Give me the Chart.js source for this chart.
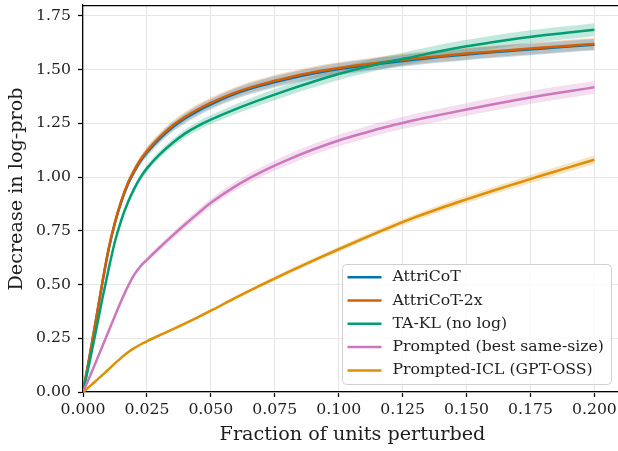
<!DOCTYPE html>
<html>
<head>
<meta charset="utf-8">
<script src="https://cdn.jsdelivr.net/npm/chart.js@4.4.1/dist/chart.umd.min.js"></script>
<style>
html,body{margin:0;padding:0;background:#fff;overflow:hidden}
#wrap{width:618px;height:451px;position:relative;overflow:hidden}
canvas{display:block}
</style>
</head>
<body>
<div id="wrap"><canvas id="c" width="622" height="451"></canvas></div>
<script>
// ---- data ----
const fractions = [0, 0.0025, 0.005, 0.0075, 0.01, 0.0125, 0.015, 0.0175, 0.02, 0.0225, 0.025, 0.03, 0.035, 0.04, 0.045, 0.05, 0.06, 0.07, 0.08, 0.09, 0.1, 0.11, 0.12, 0.13, 0.14, 0.15, 0.16, 0.17, 0.18, 0.19, 0.2];

const attricot      = [0, 0.16, 0.33, 0.503, 0.662, 0.786, 0.885, 0.965, 1.025, 1.075, 1.114, 1.178, 1.231, 1.273, 1.308, 1.338, 1.389, 1.426, 1.456, 1.481, 1.502, 1.518, 1.533, 1.547, 1.559, 1.57, 1.58, 1.589, 1.598, 1.607, 1.615];
const attricot2x    = [0, 0.16, 0.33, 0.505, 0.665, 0.79, 0.89, 0.97, 1.03, 1.08, 1.12, 1.185, 1.238, 1.28, 1.315, 1.345, 1.395, 1.432, 1.462, 1.487, 1.507, 1.523, 1.538, 1.551, 1.563, 1.574, 1.584, 1.593, 1.602, 1.611, 1.619];
const taKl          = [0, 0.135, 0.28, 0.43, 0.57, 0.70, 0.80, 0.88, 0.945, 0.998, 1.04, 1.105, 1.158, 1.203, 1.238, 1.267, 1.317, 1.362, 1.404, 1.443, 1.479, 1.51, 1.537, 1.561, 1.586, 1.608, 1.627, 1.644, 1.659, 1.672, 1.685];
const prompted      = [0, 0.068, 0.138, 0.21, 0.283, 0.355, 0.425, 0.49, 0.545, 0.585, 0.615, 0.672, 0.727, 0.78, 0.831, 0.88, 0.96, 1.025, 1.08, 1.128, 1.17, 1.205, 1.237, 1.265, 1.29, 1.314, 1.337, 1.359, 1.38, 1.399, 1.417];
const promptedIcl   = [0, 0.025, 0.051, 0.078, 0.105, 0.133, 0.16, 0.184, 0.204, 0.221, 0.236, 0.264, 0.291, 0.319, 0.348, 0.378, 0.44, 0.499, 0.556, 0.611, 0.664, 0.716, 0.766, 0.813, 0.856, 0.896, 0.935, 0.972, 1.009, 1.045, 1.08];

// half-widths of the shaded bands
const errAttricot   = [0, 0.004, 0.007, 0.009, 0.011, 0.013, 0.015, 0.017, 0.018, 0.019, 0.02, 0.021, 0.022, 0.023, 0.024, 0.024, 0.025, 0.026, 0.026, 0.027, 0.027, 0.027, 0.027, 0.027, 0.027, 0.027, 0.027, 0.027, 0.027, 0.027, 0.027];
const errAttricot2x = [0, 0.004, 0.007, 0.009, 0.011, 0.013, 0.015, 0.017, 0.018, 0.019, 0.02, 0.021, 0.022, 0.023, 0.024, 0.024, 0.025, 0.026, 0.026, 0.027, 0.027, 0.027, 0.027, 0.027, 0.027, 0.027, 0.027, 0.027, 0.027, 0.027, 0.027];
const errTaKl       = [0, 0.003, 0.005, 0.007, 0.009, 0.01, 0.011, 0.012, 0.013, 0.014, 0.015, 0.017, 0.018, 0.019, 0.02, 0.021, 0.023, 0.025, 0.026, 0.027, 0.028, 0.029, 0.029, 0.03, 0.03, 0.03, 0.03, 0.03, 0.03, 0.03, 0.03];
const errPrompted   = [0, 0.002, 0.004, 0.005, 0.006, 0.007, 0.008, 0.009, 0.01, 0.011, 0.012, 0.014, 0.015, 0.017, 0.018, 0.019, 0.021, 0.023, 0.025, 0.026, 0.027, 0.028, 0.028, 0.029, 0.029, 0.029, 0.03, 0.03, 0.03, 0.03, 0.03];
const errIcl        = [0, 0.001, 0.002, 0.002, 0.003, 0.003, 0.003, 0.004, 0.004, 0.005, 0.005, 0.006, 0.006, 0.007, 0.007, 0.008, 0.009, 0.01, 0.011, 0.011, 0.012, 0.013, 0.014, 0.015, 0.016, 0.017, 0.017, 0.018, 0.019, 0.019, 0.02];

const seriesNames = ["AttriCoT", "AttriCoT-2x", "TA-KL (no log)", "Prompted (best same-size)", "Prompted-ICL (GPT-OSS)"];
const seriesValues = [attricot, attricot2x, taKl, prompted, promptedIcl];
const seriesErrors = [errAttricot, errAttricot2x, errTaKl, errPrompted, errIcl];
const seriesColors = ["#0173B2", "#D55E00", "#029E73", "#CC78BC", "#DE8F05"];

const xTicks = [0, 0.025, 0.05, 0.075, 0.1, 0.125, 0.15, 0.175, 0.2];
const yTicks = [0, 0.25, 0.5, 0.75, 1.0, 1.25, 1.5, 1.75];
const xTitle = 'Fraction of units perturbed';
const yTitle = 'Decrease in log-prob';

// ---- chart ----
function rgba(hex, a) {
  const n = parseInt(hex.slice(1), 16);
  return `rgba(${(n >> 16) & 255},${(n >> 8) & 255},${n & 255},${a})`;
}
const FONT = "'DejaVu Serif', 'Liberation Serif', serif";
const TXT = '#1e1e1e';
const LW = 2.5;

const datasets = [];
seriesValues.forEach((vals, i) => {
  const err = seriesErrors[i];
  datasets.push({
    label: '_upper' + i,
    data: fractions.map((x, j) => ({x, y: vals[j] + err[j]})),
    borderWidth: 0, pointRadius: 0, fill: false,
    borderColor: 'rgba(0,0,0,0)', cubicInterpolationMode: 'monotone', order: 20
  });
  datasets.push({
    label: '_lower' + i,
    data: fractions.map((x, j) => ({x, y: vals[j] - err[j]})),
    borderWidth: 0, pointRadius: 0, fill: '-1',
    borderColor: 'rgba(0,0,0,0)', backgroundColor: rgba(seriesColors[i], 0.24),
    cubicInterpolationMode: 'monotone', order: 20
  });
});
seriesValues.forEach((vals, i) => {
  datasets.push({
    label: seriesNames[i],
    data: fractions.map((x, j) => ({x, y: vals[j]})),
    borderColor: seriesColors[i], borderWidth: LW, pointRadius: 0, fill: false,
    cubicInterpolationMode: 'monotone', order: 10 - i
  });
});

const framePlugin = {
  id: 'frame',
  afterDraw(chart) {
    const {ctx, chartArea: ca} = chart;
    ctx.save();
    ctx.strokeStyle = '#000';
    ctx.lineWidth = 1.25;
    ctx.beginPath();
    ctx.moveTo(ca.left, ca.top + 0.5);
    ctx.lineTo(ca.right, ca.top + 0.5);
    ctx.stroke();
    // y-axis title
    ctx.fillStyle = TXT;
    ctx.font = `19.2px ${FONT}`;
    ctx.textAlign = 'center';
    ctx.textBaseline = 'middle';
    ctx.translate(17.5, (ca.top + ca.bottom) / 2 - 9.5);
    ctx.rotate(-Math.PI / 2);
    ctx.fillText(yTitle, 0, 0);
    ctx.restore();
  }
};

const legendPlugin = {
  id: 'customLegend',
  afterDraw(chart) {
    const {ctx, chartArea: ca} = chart;
    const w = 269, h = 120;
    const x0 = ca.right - 279.5, y0 = ca.bottom - 127.5;
    ctx.save();
    ctx.beginPath();
    ctx.roundRect(x0, y0, w, h, 4);
    ctx.fillStyle = 'rgba(255,255,255,0.8)';
    ctx.fill();
    ctx.strokeStyle = '#d0d0d0';
    ctx.lineWidth = 1;
    ctx.stroke();
    ctx.font = `15.7px ${FONT}`;
    ctx.textBaseline = 'middle';
    ctx.fillStyle = TXT;
    seriesNames.forEach((name, i) => {
      const yy = y0 + 12.7 + i * 23.3;
      ctx.strokeStyle = seriesColors[i];
      ctx.lineWidth = LW;
      ctx.beginPath();
      ctx.moveTo(x0 + 5, yy);
      ctx.lineTo(x0 + 39, yy);
      ctx.stroke();
      ctx.fillText(name, x0 + 50, yy);
    });
    ctx.restore();
  }
};

new Chart(document.getElementById('c'), {
  type: 'line',
  data: {datasets},
  options: {
    responsive: false,
    animation: false,
    devicePixelRatio: 1,
    layout: {padding: {top: 5, left: 0, right: 0, bottom: 0}},
    plugins: {
      legend: {display: false},
      tooltip: {enabled: false},
      filler: {drawTime: 'beforeDatasetsDraw'}
    },
    scales: {
      x: {
        type: 'linear',
        min: 0, max: 0.2108,
        afterBuildTicks: s => { s.ticks = xTicks.map(v => ({value: v})); },
        afterFit: s => { s.height = 59; s.paddingLeft = 0; s.paddingRight = 0; },
        grid: {color: '#e6e6e6', lineWidth: 1, drawTicks: true, tickLength: 5, tickColor: '#000', tickWidth: 1.25},
        border: {display: true, color: '#000', width: 1.25},
        ticks: {
          font: {family: FONT, size: 15.7}, color: TXT, padding: 4, maxRotation: 0,
          callback: v => Number(v).toFixed(3)
        },
        title: {display: true, text: xTitle, font: {family: FONT, size: 19.2}, color: TXT, padding: {top: 0, bottom: 4}}
      },
      y: {
        type: 'linear',
        min: 0, max: 1.8,
        afterBuildTicks: s => { s.ticks = yTicks.map(v => ({value: v})); },
        afterFit: s => { s.width = 83; s.paddingTop = 0; s.paddingBottom = 0; },
        grid: {color: '#e6e6e6', lineWidth: 1, drawTicks: true, tickLength: 5, tickColor: '#000', tickWidth: 1.25},
        border: {display: true, color: '#000', width: 1.25},
        ticks: {
          font: {family: FONT, size: 15.7}, color: TXT, padding: 7,
          callback: v => Number(v).toFixed(2)
        },
        title: {display: false}
      }
    }
  },
  plugins: [framePlugin, legendPlugin]
});
</script>
</body>
</html>
